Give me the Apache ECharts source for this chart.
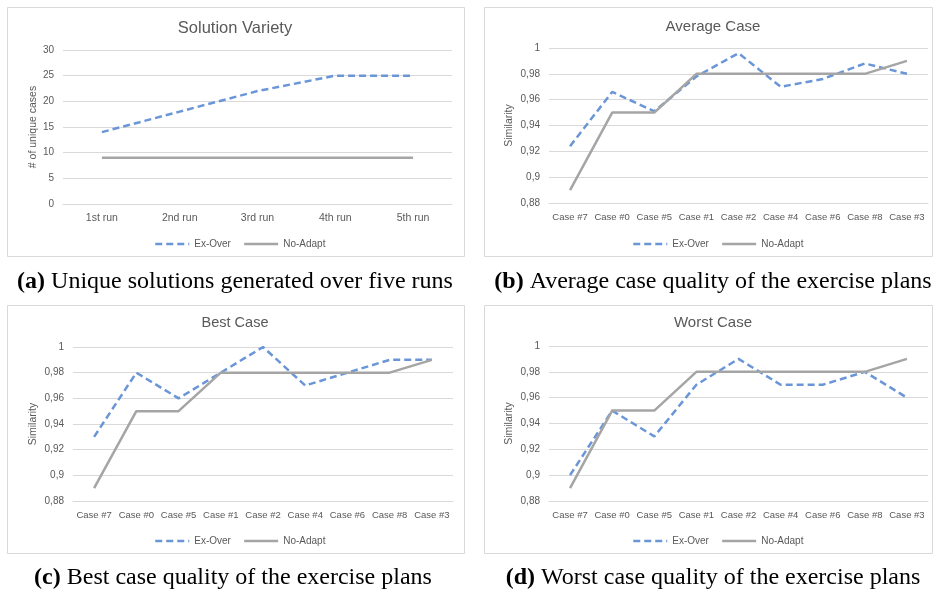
<!DOCTYPE html>
<html>
<head>
<meta charset="utf-8">
<script src="https://cdn.jsdelivr.net/npm/echarts@6/dist/echarts.min.js"></script>
<style>
  html, body { margin: 0; padding: 0; background: #ffffff; }
  #chart { width: 934px; height: 595px; }
</style>
</head>
<body>
<div id="chart"></div>
<script>
// ---------- data ----------
const runCategories = ['1st run', '2nd run', '3rd run', '4th run', '5th run'];
const varietyExOver = [14, 18, 22, 25, 25];
const varietyNoAdapt = [9, 9, 9, 9, 9];

const caseCategories = ['Case #7', 'Case #0', 'Case #5', 'Case #1', 'Case #2', 'Case #4', 'Case #6', 'Case #8', 'Case #3'];
const averageExOver = [0.924, 0.966, 0.951, 0.978, 0.996, 0.970, 0.976, 0.988, 0.980];
const averageNoAdapt = [0.89, 0.95, 0.95, 0.98, 0.98, 0.98, 0.98, 0.98, 0.99];
const bestExOver = [0.93, 0.98, 0.96, 0.98, 1.00, 0.97, 0.98, 0.99, 0.99];
const bestNoAdapt = [0.89, 0.95, 0.95, 0.98, 0.98, 0.98, 0.98, 0.98, 0.99];
const worstExOver = [0.90, 0.95, 0.93, 0.97, 0.99, 0.97, 0.97, 0.98, 0.96];
const worstNoAdapt = [0.89, 0.95, 0.95, 0.98, 0.98, 0.98, 0.98, 0.98, 0.99];

const seriesNames = ['Ex-Over', 'No-Adapt'];
const panelTitles = ['Solution Variety', 'Average Case', 'Best Case', 'Worst Case'];
const yAxisNames = ['# of unique cases', 'Similarity', 'Similarity', 'Similarity'];
const captions = [
  ['(a)', ' Unique solutions generated over five runs'],
  ['(b)', ' Average case quality of the exercise plans'],
  ['(c)', ' Best case quality of the exercise plans'],
  ['(d)', ' Worst case quality of the exercise plans']
];

// ---------- styling / layout ----------
const FONT = "'Liberation Sans', Arial, sans-serif";
const SERIF = "'Liberation Serif', 'Times New Roman', serif";
const TEXT = '#595959';
const GRIDC = '#d9d9d9';
const BLUE = '#6a96d8';
const GREY = '#a5a5a5';

const panels = [
  { grid: { left: 63, top: 50, width: 389, height: 154 }, box: [7.5, 7.5, 457, 249], titleX: 235, titleY: 28, titleSize: 16.5, legendLeft: 149, legendTop: 234, capX: 235, capY: 282,
    cats: runCategories, ex: varietyExOver, na: varietyNoAdapt, min: 0, max: 30, interval: 5, nameGap: 24, tickSize: 10.5 },
  { grid: { left: 549, top: 48, width: 379, height: 155 }, box: [484.5, 7.5, 448, 249], titleX: 713, titleY: 27, titleSize: 15, legendLeft: 627, legendTop: 234, capX: 713, capY: 282,
    cats: caseCategories, ex: averageExOver, na: averageNoAdapt, min: 0.88, max: 1, interval: 0.02, nameGap: 34, tickSize: 9.5 },
  { grid: { left: 73, top: 347, width: 380, height: 154 }, box: [7.5, 305.5, 457, 248], titleX: 235, titleY: 323, titleSize: 14.5, legendLeft: 149, legendTop: 531, capX: 233, capY: 578,
    cats: caseCategories, ex: bestExOver, na: bestNoAdapt, min: 0.88, max: 1, interval: 0.02, nameGap: 34, tickSize: 9.5 },
  { grid: { left: 549, top: 346, width: 379, height: 155 }, box: [484.5, 305.5, 448, 248], titleX: 713, titleY: 323, titleSize: 15, legendLeft: 627, legendTop: 531, capX: 713, capY: 578,
    cats: caseCategories, ex: worstExOver, na: worstNoAdapt, min: 0.88, max: 1, interval: 0.02, nameGap: 34, tickSize: 9.5 }
];

function fmtY(v) {
  return String(+v.toFixed(2)).replace('.', ',');
}

const option = {
  animation: false,
  backgroundColor: '#ffffff',
  grid: [], xAxis: [], yAxis: [], series: [], legend: [], graphic: []
};

panels.forEach((p, i) => {
  option.grid.push(Object.assign({ containLabel: false }, p.grid));
  option.xAxis.push({
    type: 'category', gridIndex: i, data: p.cats, boundaryGap: true,
    axisLine: { show: true, lineStyle: { color: GRIDC, width: 1 } },
    axisTick: { show: false },
    axisLabel: { interval: 0, margin: 9, color: TEXT, fontFamily: FONT, fontSize: p.tickSize },
    splitLine: { show: false }
  });
  option.yAxis.push({
    type: 'value', gridIndex: i, min: p.min, max: p.max, interval: p.interval,
    name: yAxisNames[i], nameLocation: 'middle', nameGap: p.nameGap, nameRotate: 90,
    nameTextStyle: { color: TEXT, fontFamily: FONT, fontSize: 10.5 },
    axisLine: { show: false }, axisTick: { show: false },
    axisLabel: { margin: 9, color: TEXT, fontFamily: FONT, fontSize: 10, formatter: fmtY },
    splitLine: { show: true, lineStyle: { color: GRIDC, width: 1 } }
  });
  option.series.push({
    name: seriesNames[0], type: 'line', xAxisIndex: i, yAxisIndex: i, data: p.ex,
    symbol: 'none', smooth: false,
    lineStyle: { color: BLUE, width: 2.5, type: [7, 4], cap: 'butt' },
    itemStyle: { color: BLUE }
  });
  option.series.push({
    name: seriesNames[1], type: 'line', xAxisIndex: i, yAxisIndex: i, data: p.na,
    symbol: 'none', smooth: false,
    lineStyle: { color: GREY, width: 2.5, type: 'solid' },
    itemStyle: { color: GREY }
  });
  option.legend.push({
    data: seriesNames, left: p.legendLeft, top: p.legendTop, orient: 'horizontal',
    itemWidth: 34, itemHeight: 10, itemGap: 12, selectedMode: false,
    itemStyle: { opacity: 0 },
    lineStyle: { width: 2.5 },
    textStyle: { color: TEXT, fontFamily: FONT, fontSize: 10, padding: [0, 0, 0, 0] }
  });
  // panel border
  option.graphic.push({
    type: 'rect', silent: true, z: -1,
    shape: { x: p.box[0], y: p.box[1], width: p.box[2], height: p.box[3] },
    style: { fill: 'none', stroke: GRIDC, lineWidth: 1 }
  });
  // panel title
  option.graphic.push({
    type: 'text', silent: true, x: p.titleX, y: p.titleY,
    style: { text: panelTitles[i], fill: TEXT, font: p.titleSize + "px " + FONT, align: 'center', verticalAlign: 'middle' }
  });
  // caption
  option.graphic.push({
    type: 'text', silent: true, x: p.capX, y: p.capY,
    style: {
      text: '{b|' + captions[i][0] + '}{n|' + captions[i][1] + '}',
      align: 'center', verticalAlign: 'middle',
      rich: {
        b: { fontFamily: SERIF, fontSize: 24, fontWeight: 'bold', fill: '#000000' },
        n: { fontFamily: SERIF, fontSize: 24, fill: '#000000' }
      }
    }
  });
});

const chart = echarts.init(document.getElementById('chart'), null, { renderer: 'canvas', width: 934, height: 595 });
chart.setOption(option);
</script>
</body>
</html>
